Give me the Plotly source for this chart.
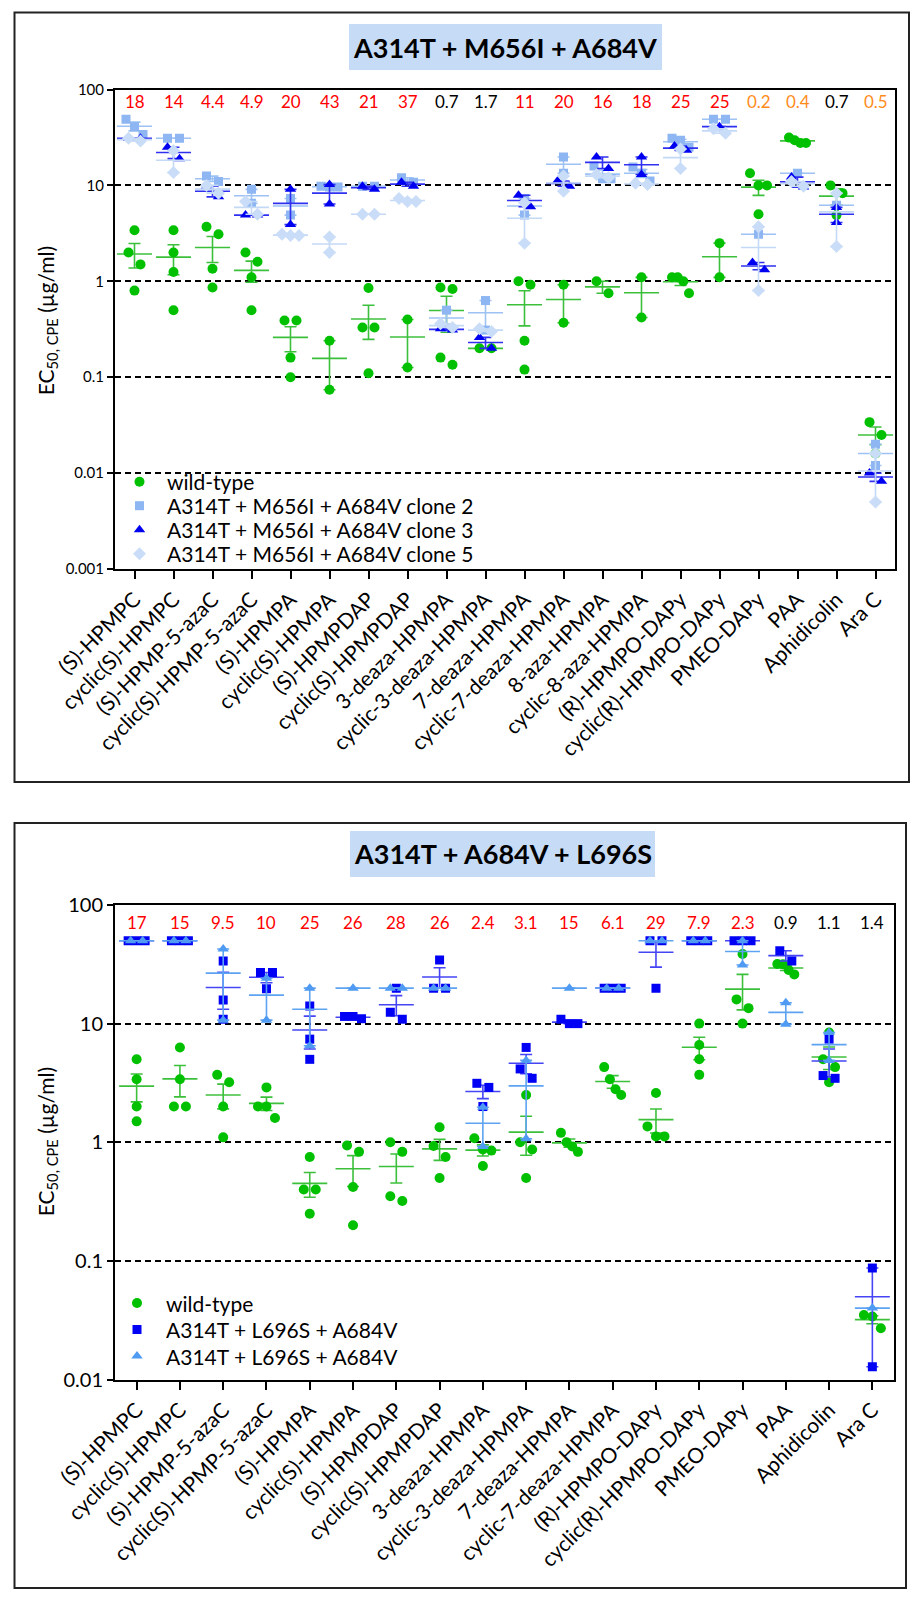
import numpy as np
import plotly.graph_objects as go

W, H = 919, 1600

# ---------------- data: top panel ----------------
cats_top = ["(S)-HPMPC", "cyclic(S)-HPMPC", "(S)-HPMP-5-azaC", "cyclic(S)-HPMP-5-azaC",
            "(S)-HPMPA", "cyclic(S)-HPMPA", "(S)-HPMPDAP", "cyclic(S)-HPMPDAP",
            "3-deaza-HPMPA", "cyclic-3-deaza-HPMPA", "7-deaza-HPMPA", "cyclic-7-deaza-HPMPA",
            "8-aza-HPMPA", "cyclic-8-aza-HPMPA", "(R)-HPMPO-DAPy", "cyclic(R)-HPMPO-DAPy",
            "PMEO-DAPy", "PAA", "Aphidicolin", "Ara C"]

wt_top = [[3.4, 2.0, 1.5, 0.8], [3.4, 2.0, 1.25, 0.5], [3.7, 3.1, 1.35, 0.86], [2.0, 1.6, 1.1, 0.5],
          [0.39, 0.39, 0.16, 0.10], [0.24, 0.074], [0.85, 0.33, 0.33, 0.11], [0.40, 0.126],
          [0.86, 0.83, 0.16, 0.135], [0.20, 0.20], [1.0, 0.92, 0.24, 0.12], [0.92, 0.37],
          [1.0, 0.75], [1.10, 0.42], [1.10, 1.10, 1.0, 0.75], [2.5, 1.1],
          [13.4, 10.0, 10.0, 5.0], [31.5, 29.6, 27.7, 27.7], [10.0, 8.3, 4.9], [0.034, 0.025, 0.016]]

clone2_top = [[49, 41, 34], [31, 31], [12.5, 11], [9.1, 6.5], [7.3, 4.9], [9.8, 9.6, 9.6],
              [9.8, 9.8], [12, 10.8], [0.5, 0.33], [0.63, 0.31], [7.3, 4.9], [19.8, 13.4],
              [15.9, 11.7, 11.7], [15.6, 13.4, 11.1], [31, 29.5, 25], [49, 49], [3.1], [13.4],
              [6.2], [0.02, 0.012]]

clone3_top = [[31, 31], [25, 19], [9.8, 7.6], [4.9, 4.9], [9.1, 3.9], [10.2, 6.4], [9.8, 9.1],
              [10.8, 9.8], [0.32, 0.31], [0.26, 0.20], [7.9, 6.0], [11.1, 9.8], [19.8, 15.0],
              [19.8, 13], [25.8, 23.2], [41], [1.57, 1.32], [12.2, 9.6], [5.9, 4.1], [0.01, 0.0082]]

clone5_top = [[31, 29], [23, 13.6], [10, 8.3], [6.8, 5.0], [3.1, 3.0, 3.0], [2.9, 2.0], [5.0, 5.0],
              [7.3, 6.8, 6.8], [0.36, 0.33], [0.32, 0.30], [6.6, 2.5], [12.5, 8.7], [13, 12],
              [10.5, 10.2], [24, 15], [39, 35], [3.7, 0.8], [11, 9.8], [8.3, 2.3], [0.016, 0.005]]

fold_top = ["18", "14", "4.4", "4.9", "20", "43", "21", "37", "0.7", "1.7", "11", "20", "16", "18",
            "25", "25", "0.2", "0.4", "0.7", "0.5"]
fold_top_col = ["r", "r", "r", "r", "r", "r", "r", "r", "k", "k", "r", "r", "r", "r",
                "r", "r", "o", "o", "k", "o"]
names_top = ["wild-type", "A314T + M656I + A684V clone 2", "A314T + M656I + A684V clone 3",
             "A314T + M656I + A684V clone 5"]

# ---------------- data: bottom panel ----------------
cats_bot = ["(S)-HPMPC", "cyclic(S)-HPMPC", "(S)-HPMP-5-azaC", "cyclic(S)-HPMP-5-azaC",
            "(S)-HPMPA", "cyclic(S)-HPMPA", "(S)-HPMPDAP", "cyclic(S)-HPMPDAP",
            "3-deaza-HPMPA", "cyclic-3-deaza-HPMPA", "7-deaza-HPMPA", "cyclic-7-deaza-HPMPA",
            "(R)-HPMPO-DAPy", "cyclic(R)-HPMPO-DAPy", "PMEO-DAPy", "PAA", "Aphidicolin", "Ara C"]

wt_bot = [[5.0, 3.4, 2.0, 1.5], [6.3, 3.4, 2.0, 2.0], [3.7, 3.2, 2.0, 1.1], [2.9, 2.0, 2.0, 1.6],
          [0.75, 0.40, 0.40, 0.25], [0.94, 0.83, 0.42, 0.20], [1.0, 0.83, 0.35, 0.32],
          [1.34, 0.93, 0.75, 0.50], [1.08, 0.87, 0.85, 0.63], [2.5, 1.0, 0.87, 0.50],
          [1.2, 1.0, 0.92, 0.83], [4.3, 3.4, 2.8, 2.5], [2.6, 1.36, 1.12, 1.12],
          [10, 6.6, 5.0, 3.7], [38.6, 16, 13.5, 10], [31.8, 31.6, 28.3, 26],
          [8.4, 5.0, 4.3, 3.2], [0.035, 0.034, 0.027]]

sq_bot = [[50, 50, 50], [50, 50, 50], [33.7, 15.8, 10.9], [27, 27, 19.7], [14.1, 7.4, 5.0],
          [11.5, 11.5, 11.0], [19.9, 12.5, 10.9], [34.4, 19.9, 19.9], [3.14, 2.9, 2.0],
          [6.3, 4.15, 3.46], [10.9, 10, 10], [19.9, 19.9, 19.9], [50, 50, 19.9], [50, 50, 50],
          [50, 50, 50], [41.2, 33.7], [7.4, 3.65, 3.46], [0.087, 0.0128]]

tri_bot = [[50, 50], [50, 50], [42.6, 10.7], [24.1, 10.7], [19.9, 6.5], [19.9], [19.9, 19.9],
           [19.9, 19.9], [1.97, 0.92], [4.9, 1.07], [19.9], [19.9, 19.9], [50, 50], [50, 50],
           [50, 31.2], [15, 9.9], [8.4, 4.9], [0.04]]

fold_bot = ["17", "15", "9.5", "10", "25", "26", "28", "26", "2.4", "3.1", "15", "6.1", "29",
            "7.9", "2.3", "0.9", "1.1", "1.4"]
fold_bot_col = ["r"] * 15 + ["k", "k", "k"]
names_bot = ["wild-type", "A314T + L696S + A684V", "A314T + L696S + A684V"]

ytick_top = ["0.001", "0.01", "0.1", "1", "10", "100"]
ytick_bot = ["0.01", "0.1", "1", "10", "100"]

# ---------------- styling ----------------
FONT = "Lato"
COL = {"r": "#FF0000", "k": "#000000", "o": "#FF8C1A"}


def px_x(x):
    return x / W


def px_y(y):
    return 1 - y / H


def swarm(vals, dec_px, cat_px):
    """deterministic horizontal spreading of close points (in category units)"""
    v = np.array(vals, float)
    order = np.argsort(-v)
    ypx = np.log10(v[order]) * dec_px
    groups, cur = [], [0]
    for k in range(1, len(order)):
        if ypx[k - 1] - ypx[k] < 13:
            cur.append(k)
        else:
            groups.append(cur)
            cur = [k]
    groups.append(cur)
    offs = np.zeros(len(v))
    for g in groups:
        n = len(g)
        if n == 1:
            continue
        step = 12 if n == 2 else min(12, 17 / (n - 1))
        for j, k in enumerate(g):
            offs[order[k]] = (j - (n - 1) / 2) * step / cat_px
    return offs


fig = go.Figure()


def add_series(data, symbol, color, lcolor, xa, ya, dec_px, cat_px, size):
    xs, ys = [], []
    mx, my, me = [], [], []
    for i, vals in enumerate(data):
        offs = swarm(vals, dec_px, cat_px)
        xs += list(i + offs)
        ys += list(vals)
        a = np.array(vals, float)
        mx.append(i)
        my.append(a.mean())
        me.append(a.std(ddof=1) / np.sqrt(len(a)) if len(a) > 1 else 0.0)
    fig.add_trace(go.Scatter(
        x=mx, y=my, mode="markers", xaxis=xa, yaxis=ya, showlegend=False, hoverinfo="skip",
        marker=dict(symbol="line-ew", size=25, color=lcolor, line=dict(color=lcolor, width=1.6)),
        error_y=dict(type="data", array=me, symmetric=True, color=lcolor, thickness=1.6, width=6)))
    fig.add_trace(go.Scatter(
        x=xs, y=ys, mode="markers", xaxis=xa, yaxis=ya, showlegend=False,
        marker=dict(symbol=symbol, size=size, color=color, line=dict(width=0))))


DEC_T, CAT_T = 95.8, 39.0
DEC_B, CAT_B = 118.6, 43.3

GREEN, GREEN_L = "#00C000", "#3CC03C"
C2, C2_L = "#8DB6F2", "#9EC2F4"
C3, C3_L = "#0000F0", "#3030F0"
C5, C5_L = "#CADDF8", "#C4D9F6"
SQ, SQ_L = "#0000F5", "#4545F5"
TR, TR_L = "#4F9AF2", "#5EA3F2"

styles_top = [("circle", GREEN, GREEN_L, 10), ("square", C2, C2_L, 9),
              ("triangle-up", C3, C3_L, 10), ("diamond", C5, C5_L, 10)]
styles_bot = [("circle", GREEN, GREEN_L, 10), ("square", SQ, SQ_L, 9),
              ("triangle-up", TR, TR_L, 10)]

for data, st in zip([wt_top, clone2_top, clone3_top, clone5_top], styles_top):
    add_series(data, st[0], st[1], st[2], "x", "y", DEC_T, CAT_T, st[3])
for data, st in zip([wt_bot, sq_bot, tri_bot], styles_bot):
    add_series(data, st[0], st[1], st[2], "x2", "y2", DEC_B, CAT_B, st[3])

# plot-area geometry (pixels)
TOP_X0, TOP_X1, TOP_Y0, TOP_Y1 = 115, 895, 89.5, 569
BOT_X0, BOT_X1, BOT_Y0, BOT_Y1 = 115, 894, 905, 1379.5

# legends drawn on a pixel-space overlay axis
LEG_TOP = dict(x=139.5, tx=165, y0=481.7, dy=24.0)
LEG_BOT = dict(x=137.0, tx=163.5, y0=1303.0, dy=26.5)
ann = []
for leg, names, styles in [(LEG_TOP, names_top, styles_top), (LEG_BOT, names_bot, styles_bot)]:
    for k, (nm, st) in enumerate(zip(names, styles)):
        yy = leg["y0"] + k * leg["dy"]
        fig.add_trace(go.Scatter(x=[leg["x"]], y=[yy], mode="markers", xaxis="x3", yaxis="y3",
                                 showlegend=False, hoverinfo="skip", cliponaxis=False,
                                 marker=dict(symbol=st[0], size=st[3], color=st[1], line=dict(width=0))))
        ann.append(dict(text=nm, x=px_x(leg["tx"]), y=px_y(yy), xref="paper", yref="paper",
                        xanchor="left", yanchor="middle", showarrow=False,
                        font=dict(size=21, family=FONT)))

axis_common = dict(showline=True, linewidth=2, linecolor="black", mirror=True, ticks="outside",
                   tickwidth=2, tickcolor="black", zeroline=False, automargin=False)

fig.update_layout(
    width=W, height=H, margin=dict(l=0, r=0, t=0, b=0, pad=0, autoexpand=False),
    paper_bgcolor="white", plot_bgcolor="rgba(0,0,0,0)", showlegend=False,
    font=dict(family=FONT, color="black"),
    xaxis=dict(domain=[px_x(TOP_X0), px_x(TOP_X1)], range=[-0.5, len(cats_top) - 0.5],
               tickvals=list(range(len(cats_top))), ticktext=cats_top, tickangle=-45,
               ticklen=8, showgrid=False, anchor="y", tickfont=dict(size=21, family=FONT),
               **axis_common),
    yaxis=dict(domain=[px_y(TOP_Y1), px_y(TOP_Y0)], type="log", range=[-3, 2],
               tickvals=[0.001, 0.01, 0.1, 1, 10, 100], ticktext=ytick_top, ticklen=6,
               showgrid=True, gridcolor="black", gridwidth=1.8, griddash="6px,4px",
               anchor="x", tickfont=dict(size=15, family=FONT), **axis_common),
    xaxis2=dict(domain=[px_x(BOT_X0), px_x(BOT_X1)], range=[-0.5, len(cats_bot) - 0.5],
                tickvals=list(range(len(cats_bot))), ticktext=cats_bot, tickangle=-45,
                ticklen=8, showgrid=False, anchor="y2", tickfont=dict(size=21, family=FONT),
                **axis_common),
    yaxis2=dict(domain=[px_y(BOT_Y1), px_y(BOT_Y0)], type="log", range=[-2, 2],
                tickvals=[0.01, 0.1, 1, 10, 100], ticktext=ytick_bot, ticklen=6,
                showgrid=True, gridcolor="black", gridwidth=1.8, griddash="6px,4px",
                anchor="x2", tickfont=dict(size=20, family=FONT), **axis_common),
    xaxis3=dict(domain=[0, 1], range=[0, W], visible=False, fixedrange=True, anchor="y3"),
    yaxis3=dict(domain=[0, 1], range=[H, 0], visible=False, fixedrange=True, anchor="x3"),
)

shapes = []
# outer boxes
shapes.append(dict(type="rect", xref="paper", yref="paper", x0=px_x(14.5), x1=px_x(909),
                   y0=px_y(782), y1=px_y(12.5), line=dict(color="#222222", width=2)))
shapes.append(dict(type="rect", xref="paper", yref="paper", x0=px_x(14.5), x1=px_x(906),
                   y0=px_y(1588), y1=px_y(823), line=dict(color="#222222", width=2)))
# title boxes
shapes.append(dict(type="rect", xref="paper", yref="paper", x0=px_x(349), x1=px_x(662),
                   y0=px_y(70), y1=px_y(24), fillcolor="#C6DCF6", line=dict(width=0), layer="below"))
shapes.append(dict(type="rect", xref="paper", yref="paper", x0=px_x(350), x1=px_x(655),
                   y0=px_y(877), y1=px_y(831), fillcolor="#C6DCF6", line=dict(width=0), layer="below"))
fig.update_layout(shapes=shapes)

ann.append(dict(text="<b>A314T + M656I + A684V</b>", x=px_x(505.5), y=px_y(47), xref="paper",
                yref="paper", showarrow=False, font=dict(size=27, family=FONT), xanchor="center",
                yanchor="middle"))
ann.append(dict(text="<b>A314T + A684V + L696S</b>", x=px_x(502.5), y=px_y(854), xref="paper",
                yref="paper", showarrow=False, font=dict(size=27, family=FONT), xanchor="center",
                yanchor="middle"))
ytitle = "EC<sub>50, CPE</sub> (µg/ml)"
ann.append(dict(text=ytitle, x=px_x(47), y=px_y((TOP_Y0 + TOP_Y1) / 2 - 8), xref="paper", yref="paper",
                showarrow=False, textangle=-90, xanchor="center", yanchor="middle",
                font=dict(size=21, family=FONT)))
ann.append(dict(text=ytitle, x=px_x(47), y=px_y((BOT_Y0 + BOT_Y1) / 2), xref="paper", yref="paper",
                showarrow=False, textangle=-90, xanchor="center", yanchor="middle",
                font=dict(size=21, family=FONT)))
for i, (t, c) in enumerate(zip(fold_top, fold_top_col)):
    ann.append(dict(text=t, x=i, xref="x", y=px_y(102), yref="paper", showarrow=False,
                    xanchor="center", font=dict(size=17, color=COL[c], family=FONT), yanchor="middle"))
for i, (t, c) in enumerate(zip(fold_bot, fold_bot_col)):
    ann.append(dict(text=t, x=i, xref="x2", y=px_y(922), yref="paper", showarrow=False,
                    xanchor="center", font=dict(size=17, color=COL[c], family=FONT), yanchor="middle"))
fig.update_layout(annotations=ann)

fig.write_html("out.html", config={"displayModeBar": False},
               post_script="document.body.style.margin='0px';")
